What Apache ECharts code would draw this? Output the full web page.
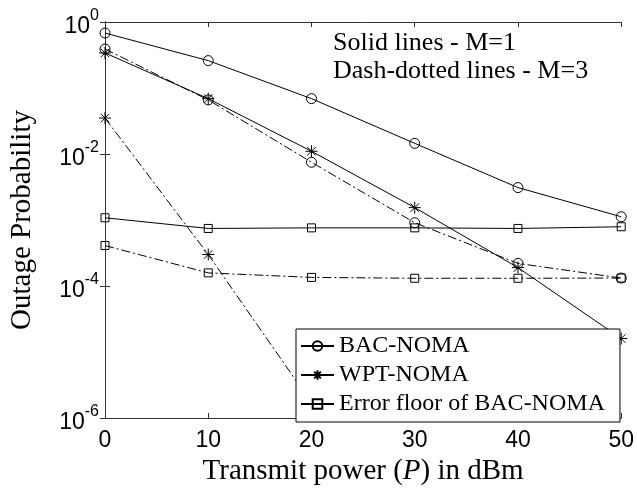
<!DOCTYPE html>
<html>
<head>
<meta charset="utf-8">
<script src="https://cdn.jsdelivr.net/npm/echarts@6/dist/echarts.min.js"></script>
<style>
  html, body { margin: 0; padding: 0; background: #fff; }
  #main { width: 637px; height: 491px; }
</style>
</head>
<body>
<div id="main"></div>
<script>
// 横轴: 发射功率 P (dBm)
var powerDbm = [0, 10, 20, 30, 40, 50];

// 实线 M=1
var bacM1   = [0.68, 0.26, 0.069, 0.0145, 0.0031, 0.00112];
var wptM1   = [0.34, 0.069, 0.011, 0.00154, 0.00019, 0.000016];
var floorM1 = [0.00108, 0.000745, 0.00076, 0.00076, 0.000745, 0.00079];

// 点划线 M=3
var bacM3   = [0.39, 0.066, 0.0075, 0.00091, 0.00022, 0.000132];
var wptM3   = [0.035, 0.0003, 0.0000017];   // 之后落到 1e-6 以下, 被图例挡住
var floorM3 = [0.00041, 0.000158, 0.000135, 0.000131, 0.000131, 0.000132];

var xTicks = [0, 10, 20, 30, 40, 50];
var legendNames = ['BAC-NOMA', 'WPT-NOMA', 'Error floor of BAC-NOMA'];

var serif = 'Liberation Serif';
var sans = 'Liberation Sans';

// 星号标记 (MATLAB 的 *)
var starPath = 'path://M0,-10L0,10M-10,0L10,0M-7.07,-7.07L7.07,7.07M-7.07,7.07L7.07,-7.07';
var dashDot = [9, 3, 2, 3];

function pairs(vals) {
    var out = [];
    for (var i = 0; i < vals.length; i++) {
        out.push([powerDbm[i], vals[i]]);
    }
    return out;
}

function line(name, vals, symbol, size, dashed) {
    return {
        name: name,
        type: 'line',
        data: pairs(vals),
        symbol: symbol,
        symbolSize: size,
        symbolKeepAspect: true,
        showSymbol: true,
        clip: true,
        lineStyle: { color: '#000', width: 1, type: dashed ? dashDot : 'solid' },
        itemStyle: { color: 'transparent', borderColor: '#000', borderWidth: 1 },
        emphasis: { disabled: true },
        animation: false
    };
}

var myChart = echarts.init(document.getElementById('main'));

var axisLineStyle = { color: '#333', width: 1 };

var option = {
    backgroundColor: '#fff',
    animation: false,
    grid: { left: 103.5, right: 15, top: 22, bottom: 70 },
    legend: {
        data: legendNames,
        orient: 'vertical',
        left: 296,
        top: 329,
        padding: [5, 15, 6, 4],
        itemGap: 5,
        itemWidth: 33,
        itemHeight: 12,
        backgroundColor: '#fff',
        borderColor: '#000',
        borderWidth: 1,
        borderRadius: 0,
        textStyle: { fontFamily: serif, fontSize: 24, color: '#000', lineHeight: 24 },
        selectedMode: false
    },
    xAxis: [{
        type: 'value',
        min: 0,
        max: 50,
        interval: 10,
        name: '{n|Transmit power (}{i|P}{n|) in dBm}',
        nameLocation: 'middle',
        nameGap: 39,
        nameTextStyle: {
            rich: {
                n: { fontFamily: serif, fontSize: 29, color: '#000' },
                i: { fontFamily: serif, fontSize: 29, fontStyle: 'italic', color: '#000' }
            }
        },
        axisLine: { show: true, lineStyle: axisLineStyle },
        axisTick: { show: true, inside: true, length: 5, lineStyle: axisLineStyle },
        axisLabel: { fontFamily: sans, fontSize: 23, color: '#000', margin: 11 },
        splitLine: { show: false }
    }, {
        type: 'value',
        position: 'top',
        min: 0,
        max: 50,
        interval: 10,
        axisLine: { show: true, lineStyle: axisLineStyle },
        axisTick: { show: true, inside: true, length: 5, lineStyle: axisLineStyle },
        axisLabel: { show: false },
        splitLine: { show: false }
    }],
    yAxis: [{
        type: 'log',
        logBase: 10,
        min: 1e-6,
        max: 1,
        interval: 2,
        name: 'Outage Probability',
        nameLocation: 'middle',
        nameGap: 68,
        nameTextStyle: { fontFamily: serif, fontSize: 29, color: '#000' },
        axisLine: { show: true, lineStyle: axisLineStyle },
        axisTick: { show: true, inside: true, length: 5, lineStyle: axisLineStyle },
        minorTick: { show: false },
        axisLabel: {
            margin: 6,
            formatter: function (v) {
                var e = Math.round(Math.log(v) / Math.LN10);
                return '{b|10}{s|' + e + '}';
            },
            rich: {
                b: { fontFamily: sans, fontSize: 23, color: '#000', padding: [10, 0, 0, 0] },
                s: { fontFamily: sans, fontSize: 16, color: '#000', padding: [0, 0, 12, 0] }
            }
        },
        splitLine: { show: false }
    }, {
        type: 'log',
        logBase: 10,
        position: 'right',
        min: 1e-6,
        max: 1,
        interval: 2,
        axisLine: { show: true, lineStyle: axisLineStyle },
        axisTick: { show: true, inside: true, length: 5, lineStyle: axisLineStyle },
        axisLabel: { show: false },
        splitLine: { show: false }
    }],
    graphic: [{
        type: 'text',
        left: 333,
        top: 30,
        style: { text: 'Solid lines - M=1', fontFamily: serif, fontSize: 26, fill: '#000' }
    }, {
        type: 'text',
        left: 333,
        top: 58,
        style: { text: 'Dash-dotted lines - M=3', fontFamily: serif, fontSize: 26, fill: '#000' }
    }],
    series: [
        line('BAC-NOMA', bacM1, 'circle', 10, false),
        line('WPT-NOMA', wptM1, starPath, 12, false),
        line('Error floor of BAC-NOMA', floorM1, 'rect', 8, false),
        line('BAC-NOMA M=3', bacM3, 'circle', 10, true),
        line('WPT-NOMA M=3', wptM3, starPath, 12, true),
        line('Error floor M=3', floorM3, 'rect', 8, true)
    ]
};

myChart.setOption(option);
</script>
</body>
</html>
